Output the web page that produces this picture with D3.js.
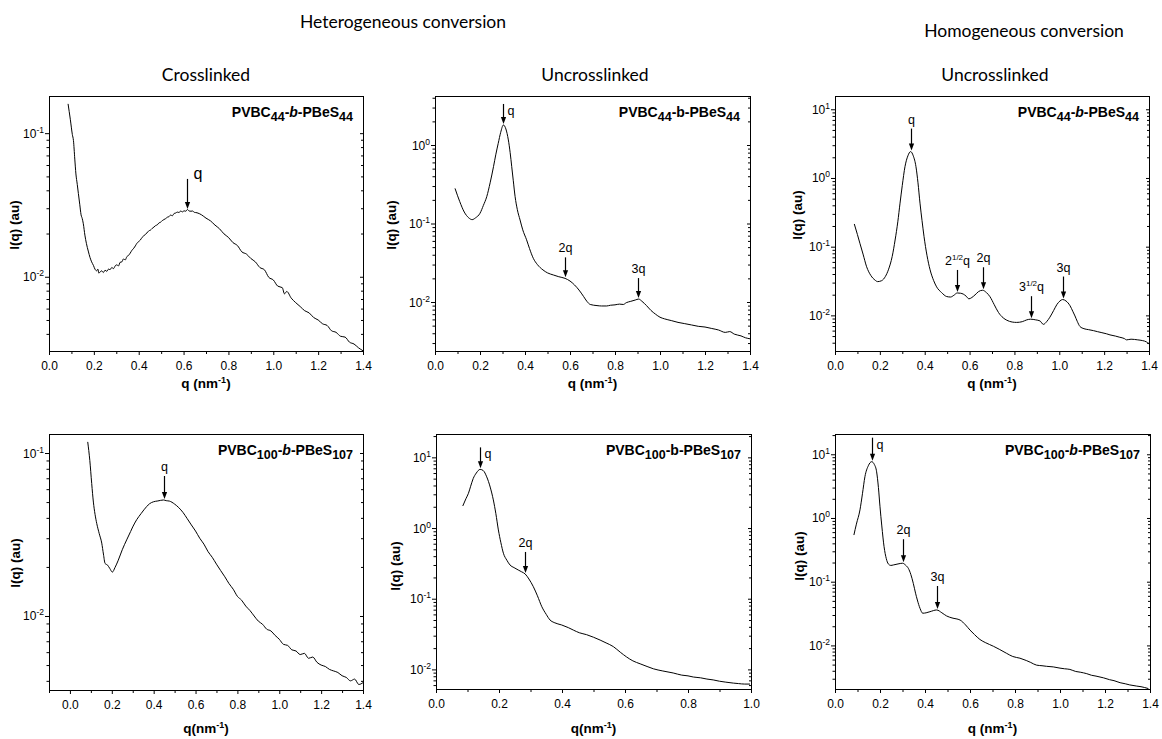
<!DOCTYPE html>
<html>
<head>
<meta charset="utf-8">
<script src="https://cdn.jsdelivr.net/npm/d3@7"></script>
<style>
  body { margin: 0; background: #fff; }
  svg text { font-family: "Liberation Sans", Arial, sans-serif; }
  svg text.head { font-family: Lato, "Open Sans", sans-serif; }
</style>
</head>
<body>
<div id="chart"></div>
<script>
// ---- data: [q (nm^-1), I(q) (au)] ----
const hetCross44 = [
  [0.085,0.160],[0.095,0.125],[0.104,0.098],[0.109,0.089],[0.115,0.066],[0.120,0.052],[0.126,0.044],[0.131,0.038],
  [0.137,0.032],[0.143,0.027],[0.148,0.0255],[0.153,0.0234],[0.160,0.0195],[0.167,0.0170],[0.175,0.0151],
  [0.183,0.0136],[0.190,0.0127],[0.198,0.0120],[0.205,0.0113],[0.212,0.0110],[0.218,0.0113],[0.222,0.0106],
  [0.228,0.0108],[0.235,0.0110],[0.242,0.0107],[0.250,0.0111],[0.258,0.0109],[0.265,0.0113],[0.272,0.0112],
  [0.280,0.0116],[0.288,0.0114],[0.295,0.0119],[0.302,0.0121],[0.310,0.0119],[0.317,0.0126],[0.325,0.0127],
  [0.332,0.0133],[0.340,0.0131],[0.347,0.0138],[0.355,0.0141],[0.362,0.0146],[0.370,0.0153],[0.378,0.0158],
  [0.385,0.0164],[0.392,0.0171],[0.400,0.0176],[0.407,0.0180],[0.415,0.0188],[0.422,0.0192],[0.430,0.0198],
  [0.437,0.0202],[0.445,0.0209],[0.452,0.0211],[0.460,0.0217],[0.468,0.0222],[0.475,0.0227],[0.483,0.0230],
  [0.490,0.0237],[0.498,0.0240],[0.505,0.0246],[0.512,0.0250],[0.520,0.0254],[0.528,0.0260],[0.535,0.0262],
  [0.542,0.0269],[0.550,0.0266],[0.558,0.0276],[0.565,0.0278],[0.572,0.0282],[0.580,0.0280],[0.587,0.0287],
  [0.595,0.0283],[0.602,0.0288],[0.610,0.0286],[0.617,0.0294],[0.625,0.0287],[0.633,0.0286],[0.640,0.0287],
  [0.648,0.0281],[0.660,0.0279],[0.680,0.0270],[0.700,0.0256],[0.720,0.0245],[0.740,0.0229],[0.760,0.0216],
  [0.780,0.0199],[0.800,0.0188],[0.820,0.0173],[0.840,0.0165],[0.860,0.0149],[0.880,0.0144],[0.900,0.0134],
  [0.920,0.0127],[0.940,0.0116],[0.960,0.0112],[0.980,0.0099],[1.000,0.0095],[1.020,0.0086],[1.040,0.0084],
  [1.050,0.0076],[1.060,0.0079],[1.080,0.0071],[1.100,0.0066],[1.120,0.0062],[1.140,0.0058],[1.160,0.0056],
  [1.180,0.0052],[1.200,0.0050],[1.220,0.0047],[1.240,0.00458],[1.260,0.0042],[1.280,0.0041],[1.300,0.00385],
  [1.320,0.0038],[1.340,0.0035],[1.360,0.0034],[1.380,0.0032],[1.400,0.00305]
];
const hetUncross44 = [
  [0.089,0.28],[0.110,0.19],[0.130,0.14],[0.150,0.118],[0.165,0.112],[0.180,0.118],[0.200,0.135],[0.215,0.17],
  [0.230,0.22],[0.245,0.33],[0.260,0.53],[0.270,0.75],[0.281,1.05],[0.292,1.45],[0.304,1.8],[0.315,1.6],
  [0.326,1.16],[0.334,0.8],[0.341,0.53],[0.348,0.35],[0.356,0.22],[0.366,0.15],[0.378,0.111],[0.390,0.083],
  [0.407,0.062],[0.420,0.048],[0.437,0.036],[0.455,0.030],[0.480,0.0256],[0.500,0.0235],[0.526,0.0221],
  [0.550,0.0210],[0.578,0.0200],[0.600,0.0185],[0.620,0.0165],[0.640,0.0142],[0.660,0.0118],[0.675,0.0102],
  [0.690,0.0093],[0.720,0.0090],[0.740,0.0089],[0.763,0.0089],[0.780,0.0091],[0.800,0.0092],[0.820,0.0094],
  [0.837,0.0093],[0.850,0.0098],[0.870,0.0102],[0.890,0.0106],[0.905,0.0109],[0.920,0.0102],[0.940,0.0090],
  [0.960,0.0078],[0.980,0.0070],[1.000,0.0064],[1.020,0.0061],[1.050,0.0058],[1.080,0.0055],[1.110,0.0053],
  [1.140,0.0051],[1.170,0.0049],[1.200,0.0048],[1.230,0.0046],[1.260,0.0044],[1.290,0.0041],[1.310,0.0042],
  [1.330,0.0039],[1.360,0.0037],[1.380,0.0035],[1.400,0.0034]
];
const homUncross44 = [
  [0.086,0.214],[0.100,0.15],[0.111,0.112],[0.125,0.078],[0.141,0.051],[0.160,0.038],[0.178,0.0327],[0.190,0.031],
  [0.208,0.032],[0.225,0.037],[0.238,0.046],[0.255,0.072],[0.268,0.125],[0.280,0.23],[0.290,0.43],[0.300,0.78],
  [0.312,1.46],[0.325,2.1],[0.337,2.42],[0.349,2.1],[0.361,1.46],[0.370,0.85],[0.379,0.43],[0.388,0.24],
  [0.397,0.14],[0.410,0.075],[0.424,0.046],[0.440,0.032],[0.453,0.026],[0.475,0.0215],[0.498,0.0188],
  [0.515,0.0185],[0.530,0.0196],[0.545,0.0212],[0.560,0.0210],[0.572,0.0204],[0.585,0.0190],[0.597,0.0174],
  [0.610,0.0182],[0.624,0.0198],[0.640,0.0222],[0.658,0.0232],[0.675,0.0215],[0.691,0.0187],[0.710,0.0143],
  [0.729,0.0110],[0.750,0.0092],[0.766,0.0085],[0.790,0.0080],[0.810,0.0079],[0.835,0.0081],[0.855,0.0086],
  [0.872,0.0088],[0.895,0.0086],[0.914,0.0083],[0.929,0.0074],[0.945,0.0082],[0.958,0.0094],[0.975,0.0118],
  [0.990,0.0145],[1.003,0.0162],[1.015,0.0170],[1.030,0.0162],[1.048,0.0138],[1.060,0.0115],[1.070,0.0098],
  [1.080,0.0082],[1.092,0.0069],[1.110,0.0064],[1.130,0.0062],[1.152,0.0060],[1.170,0.0058],[1.190,0.0056],
  [1.210,0.0054],[1.226,0.0052],[1.250,0.0050],[1.270,0.0048],[1.290,0.0046],[1.300,0.0044],[1.320,0.0045],
  [1.350,0.0044],[1.370,0.0043],[1.389,0.0041],[1.400,0.0038]
];
const hetCross100 = [
  [0.085,0.117],[0.095,0.090],[0.104,0.065],[0.112,0.050],[0.120,0.042],[0.128,0.037],[0.140,0.032],[0.152,0.028],
  [0.160,0.024],[0.168,0.021],[0.180,0.0205],[0.190,0.0196],[0.203,0.0186],[0.215,0.0198],[0.231,0.022],
  [0.250,0.0255],[0.271,0.0293],[0.290,0.033],[0.300,0.0352],[0.319,0.039],[0.340,0.0425],[0.367,0.047],
  [0.380,0.0488],[0.399,0.0502],[0.420,0.0508],[0.447,0.0515],[0.460,0.0510],[0.475,0.0507],[0.500,0.0486],
  [0.520,0.0462],[0.540,0.0432],[0.560,0.0396],[0.580,0.0362],[0.600,0.0332],[0.620,0.0300],[0.640,0.0276],
  [0.660,0.0248],[0.680,0.0229],[0.700,0.0208],[0.720,0.0190],[0.740,0.0174],[0.760,0.0158],[0.780,0.0146],
  [0.800,0.0132],[0.820,0.0125],[0.840,0.0115],[0.860,0.0108],[0.880,0.0100],[0.900,0.0093],[0.920,0.0089],
  [0.940,0.0083],[0.960,0.0081],[0.980,0.0076],[1.000,0.0072],[1.020,0.0067],[1.040,0.0066],[1.060,0.0062],
  [1.080,0.0061],[1.100,0.0058],[1.120,0.0059],[1.140,0.0055],[1.160,0.0056],[1.180,0.0052],[1.200,0.0050],
  [1.220,0.0049],[1.240,0.0047],[1.260,0.0046],[1.280,0.0045],[1.300,0.0043],[1.320,0.0042],[1.340,0.0040],
  [1.360,0.0041],[1.380,0.0038],[1.400,0.0039]
];
const hetUncross100 = [
  [0.085,2.05],[0.095,2.6],[0.103,3.1],[0.110,3.9],[0.118,5.0],[0.128,6.0],[0.140,6.76],[0.150,6.5],[0.161,5.3],
  [0.172,3.8],[0.182,2.5],[0.190,1.6],[0.198,0.94],[0.206,0.62],[0.214,0.44],[0.225,0.35],[0.235,0.30],
  [0.248,0.275],[0.261,0.255],[0.272,0.24],[0.283,0.224],[0.295,0.19],[0.309,0.148],[0.322,0.11],[0.336,0.077],
  [0.350,0.060],[0.362,0.050],[0.375,0.046],[0.399,0.0425],[0.420,0.039],[0.436,0.036],[0.455,0.033],
  [0.478,0.031],[0.500,0.0285],[0.521,0.026],[0.540,0.0237],[0.563,0.021],[0.585,0.0175],[0.605,0.015],
  [0.625,0.0132],[0.648,0.012],[0.670,0.011],[0.690,0.0102],[0.720,0.0095],[0.753,0.0089],[0.780,0.0083],
  [0.800,0.0081],[0.817,0.0078],[0.840,0.0076],[0.860,0.0073],[0.880,0.0071],[0.900,0.0068],[0.920,0.0066],
  [0.944,0.0064],[0.960,0.0063],[0.980,0.0062],[0.997,0.0062]
];
const homUncross100 = [
  [0.084,0.54],[0.095,0.8],[0.111,1.34],[0.122,2.4],[0.133,4.45],[0.148,6.6],[0.163,7.65],[0.175,6.9],[0.185,5.3],
  [0.193,3.0],[0.200,1.5],[0.208,0.75],[0.218,0.355],[0.228,0.23],[0.237,0.19],[0.248,0.18],[0.259,0.183],
  [0.280,0.19],[0.300,0.195],[0.315,0.18],[0.326,0.162],[0.337,0.13],[0.348,0.094],[0.358,0.066],[0.366,0.0516],
  [0.378,0.038],[0.390,0.032],[0.405,0.0325],[0.422,0.0338],[0.452,0.036],[0.475,0.0325],[0.496,0.029],
  [0.520,0.027],[0.556,0.025],[0.580,0.021],[0.600,0.0174],[0.620,0.0148],[0.644,0.0124],[0.670,0.011],
  [0.704,0.0097],[0.730,0.0087],[0.763,0.0075],[0.790,0.0067],[0.822,0.0063],[0.850,0.0058],[0.870,0.0054],
  [0.896,0.0049],[0.920,0.0048],[0.940,0.0047],[0.970,0.0046],[1.000,0.0044],[1.020,0.0043],[1.044,0.0042],
  [1.070,0.0039],[1.090,0.0038],[1.119,0.0036],[1.140,0.0034],[1.160,0.0033],[1.193,0.0031],[1.220,0.0029],
  [1.240,0.0028],[1.267,0.0026],[1.290,0.0025],[1.310,0.0024],[1.341,0.0023],[1.360,0.00225],[1.393,0.0021]
];

// peak markers: q position, intensity at the arrow tip, label
const hetCross44Marks   = [{q:0.615, I:0.0292, label:'q'}];
const hetUncross44Marks = [{q:0.304, I:1.8, label:'q'}, {q:0.578, I:0.020, label:'2q'}, {q:0.904, I:0.0109, label:'3q'}];
const homUncross44Marks = [{q:0.337, I:2.42, label:'q'}, {q:0.545, I:0.0212, label:'2', sup:'1/2', tail:'q'},
                           {q:0.658, I:0.0232, label:'2q'}, {q:0.872, I:0.0088, label:'3', sup:'1/2', tail:'q'},
                           {q:1.015, I:0.0170, label:'3q'}];
const hetCross100Marks   = [{q:0.447, I:0.0515, label:'q'}];
const hetUncross100Marks = [{q:0.140, I:6.76, label:'q'}, {q:0.283, I:0.224, label:'2q'}];
const homUncross100Marks = [{q:0.163, I:7.65, label:'q'}, {q:0.300, I:0.195, label:'2q'}, {q:0.452, I:0.036, label:'3q'}];

// sample names: [text, style]
const name44It   = [['PVBC',''],['44','sub'],['-',''],['b','it'],['-PBeS',''],['44','sub']];
const name44     = [['PVBC',''],['44','sub'],['-b-PBeS',''],['44','sub']];
const name100It  = [['PVBC',''],['100','sub'],['-',''],['b','it'],['-PBeS',''],['107','sub']];
const name100    = [['PVBC',''],['100','sub'],['-b-PBeS',''],['107','sub']];

const headers = ['Heterogeneous conversion', 'Homogeneous conversion'];
const columnTitles = ['Crosslinked', 'Uncrosslinked', 'Uncrosslinked'];

// ---- layout ----
const W = 1162, H = 739;
const FONT = '"Liberation Sans", Arial, sans-serif';
const svg = d3.select('#chart').append('svg').attr('width', W).attr('height', H);

const panels = [
  {data:hetCross44, marks:hetCross44Marks, name:name44It, l:49, r:363, t:96, b:351, xDom:[0,1.4], yDom:[0.00304,0.1815],
   ytx:14, yty:225, xt:'q (nm', xty:388, arrowLen:30, markFont:16, markMode:'right'},
  {data:hetUncross44, marks:hetUncross44Marks, name:name44, l:435, r:750, t:96, b:351, xDom:[0,1.4], yDom:[0.002376,4.21],
   ytx:391, yty:225, xt:'q (nm', xty:388, arrowLen:20, markFont:12.5, markMode:'right1'},
  {data:homUncross44, marks:homUncross44Marks, name:name44It, l:835, r:1149, t:96, b:351, xDom:[0,1.4], yDom:[0.00303,15.6],
   ytx:797, yty:215, xt:'q (nm', xty:388, arrowLen:22, markFont:12.5, markMode:'above'},
  {data:hetCross100, marks:hetCross100Marks, name:name100It, l:49, r:363, t:434, b:690, xDom:[-0.1,1.4], yDom:[0.003515,0.1308],
   ytx:15, yty:563, xt:'q(nm', xty:733, arrowLen:23, markFont:12.5, markMode:'above'},
  {data:hetUncross100, marks:hetUncross100Marks, name:name100, l:436, r:751, t:434, b:689, xDom:[0,1.0], yDom:[0.00528,21.4],
   ytx:395, yty:566, xt:'q(nm', xty:733, arrowLen:21, markFont:12.5, markMode:'right1'},
  {data:homUncross100, marks:homUncross100Marks, name:name100It, l:835, r:1150, t:434, b:689, xDom:[0,1.4], yDom:[0.00207,20.8],
   ytx:799, yty:556, xt:'q (nm', xty:733, arrowLen:23, markFont:12.5, markMode:'right1'}
];

// headers
svg.append('g').selectAll('text')
  .data([{t:headers[0], x:403, y:28}, {t:headers[1], x:1024, y:37}])
  .join('text').attr('class', 'head')
  .attr('x', d => d.x).attr('y', d => d.y)
  .attr('text-anchor', 'middle')
  .style('font-size', '17.5px')
  .text(d => d.t);

svg.append('g').selectAll('text')
  .data(columnTitles.map((t, i) => ({t, x:[206, 595, 995][i], y:81})))
  .join('text').attr('class', 'head')
  .attr('x', d => d.x).attr('y', d => d.y)
  .attr('text-anchor', 'middle')
  .style('font-size', '17.5px')
  .text(d => d.t);

panels.forEach((p, i) => drawPanel(p, i));

function drawPanel(p, idx) {
  const x = d3.scaleLinear(p.xDom, [p.l, p.r]);
  const y = d3.scaleLog(p.yDom, [p.b, p.t]);
  const g = svg.append('g');

  // x ticks
  const step = 0.1;
  const xAll = d3.range(Math.ceil(p.xDom[0] / step - 1e-6), Math.floor(p.xDom[1] / step + 1e-6) + 1).map(k => +(k * step).toFixed(1));
  const xMaj = xAll.filter(v => Math.abs(Math.round(v * 10) % 2) === 0);
  const xMin = xAll.filter(v => Math.abs(Math.round(v * 10) % 2) === 1);

  g.append('g').attr('transform', `translate(0,${p.b})`)
    .call(d3.axisBottom(x).tickValues(xMaj).tickFormat(d3.format('.1f')).tickSize(4).tickPadding(6))
    .call(a => a.select('.domain').remove())
    .call(a => a.selectAll('text').style('font-size', '12px').style('font-family', FONT).attr('fill', '#000'));
  g.append('g').attr('transform', `translate(0,${p.b})`)
    .call(d3.axisBottom(x).tickValues(xMin).tickFormat('').tickSize(3))
    .call(a => a.select('.domain').remove());

  // y ticks (log)
  const lo = Math.floor(Math.log10(p.yDom[0])), hi = Math.ceil(Math.log10(p.yDom[1]));
  const yMaj = [], yMin = [];
  for (let k = lo; k <= hi; k++) {
    const dec = Math.pow(10, k);
    if (dec >= p.yDom[0] && dec <= p.yDom[1]) yMaj.push(dec);
    for (let m = 2; m <= 9; m++) {
      const v = m * dec;
      if (v >= p.yDom[0] && v <= p.yDom[1]) yMin.push(v);
    }
  }
  g.append('g').attr('transform', `translate(${p.l},0)`)
    .call(d3.axisLeft(y).tickValues(yMaj).tickFormat('').tickSize(4))
    .call(a => a.select('.domain').remove());
  g.append('g').attr('transform', `translate(${p.l},0)`)
    .call(d3.axisLeft(y).tickValues(yMin).tickFormat('').tickSize(2.5))
    .call(a => a.select('.domain').remove());
  // inward ticks on the right edge
  g.append('g').attr('transform', `translate(${p.r},0)`)
    .call(d3.axisLeft(y).tickValues(yMaj).tickFormat('').tickSize(3))
    .call(a => a.select('.domain').remove());
  g.append('g').attr('transform', `translate(${p.r},0)`)
    .call(d3.axisLeft(y).tickValues(yMin).tickFormat('').tickSize(2))
    .call(a => a.select('.domain').remove());

  const yl = g.append('g').selectAll('text').data(yMaj).join('text')
    .attr('x', p.l - 5).attr('y', d => y(d) + 4.5)
    .attr('text-anchor', 'end').style('font-size', '12px');
  yl.append('tspan').text('10');
  yl.append('tspan').attr('dy', -5).style('font-size', '8.5px').text(d => Math.round(Math.log10(d)));

  // frame
  g.append('rect').attr('x', p.l + 0.5).attr('y', p.t + 0.5)
    .attr('width', p.r - p.l).attr('height', p.b - p.t)
    .attr('fill', 'none').attr('stroke', '#000').attr('stroke-width', 1);

  // curve
  const clipId = 'clip' + idx;
  svg.append('clipPath').attr('id', clipId).append('rect')
    .attr('x', p.l).attr('y', p.t).attr('width', p.r - p.l).attr('height', p.b - p.t);
  const line = d3.line().x(d => x(d[0])).y(d => y(d[1])).curve(d3.curveMonotoneX);
  g.append('path').attr('d', line(p.data)).attr('clip-path', `url(#${clipId})`)
    .attr('fill', 'none').attr('stroke', '#000').attr('stroke-width', 1).attr('stroke-linejoin', 'round');

  // peak arrows
  p.marks.forEach(m => {
    const ax = Math.round(x(m.q)) + 0.5;
    const tip = y(m.I) - 1;
    const top = tip - p.arrowLen;
    g.append('line').attr('x1', ax).attr('x2', ax).attr('y1', top).attr('y2', tip - 5)
      .attr('stroke', '#000').attr('stroke-width', 1.2);
    g.append('path').attr('d', `M${ax - 2.6},${tip - 7} L${ax + 2.6},${tip - 7} L${ax},${tip} Z`).attr('fill', '#000');

    let mode = p.markMode;
    if (mode === 'right1') mode = (m === p.marks[0]) ? 'right' : 'above';
    const t = g.append('text').style('font-size', p.markFont + 'px');
    if (mode === 'right') {
      t.attr('x', ax + (p.markFont > 14 ? 6 : 4)).attr('y', top + (p.markFont > 14 ? 0 : 11)).attr('text-anchor', 'start');
    } else {
      t.attr('x', ax).attr('y', top - 5).attr('text-anchor', 'middle');
    }
    t.append('tspan').text(m.label);
    if (m.sup) {
      t.append('tspan').attr('dy', -5).style('font-size', '8px').text(m.sup);
      t.append('tspan').attr('dy', 5).text(m.tail);
    }
  });

  // sample name (top right)
  const nm = g.append('text').attr('x', p.r - 10).attr('y', p.t + 21)
    .attr('text-anchor', 'end').style('font-size', '14px').style('font-weight', 'bold');
  let shifted = false;
  p.name.forEach(([txt, st]) => {
    const ts = nm.append('tspan').text(txt);
    if (st === 'sub') {
      ts.attr('dy', shifted ? 0 : 4).style('font-size', '12.5px');
      shifted = true;
    } else {
      if (shifted) ts.attr('dy', -4);
      shifted = false;
      if (st === 'it') ts.style('font-style', 'italic');
    }
  });

  // axis titles
  g.append('text')
    .attr('transform', `translate(${p.ytx + 5},${p.yty}) rotate(-90)`)
    .attr('text-anchor', 'middle').style('font-size', '13.5px').style('font-weight', 'bold')
    .text('I(q) (au)');
  const xt = g.append('text').attr('x', (p.l + p.r) / 2).attr('y', p.xty)
    .attr('text-anchor', 'middle').style('font-size', '13.5px').style('font-weight', 'bold');
  xt.append('tspan').text(p.xt);
  xt.append('tspan').attr('dy', -5).style('font-size', '9px').text('-1');
  xt.append('tspan').attr('dy', 5).text(')');
}
</script>
</body>
</html>
